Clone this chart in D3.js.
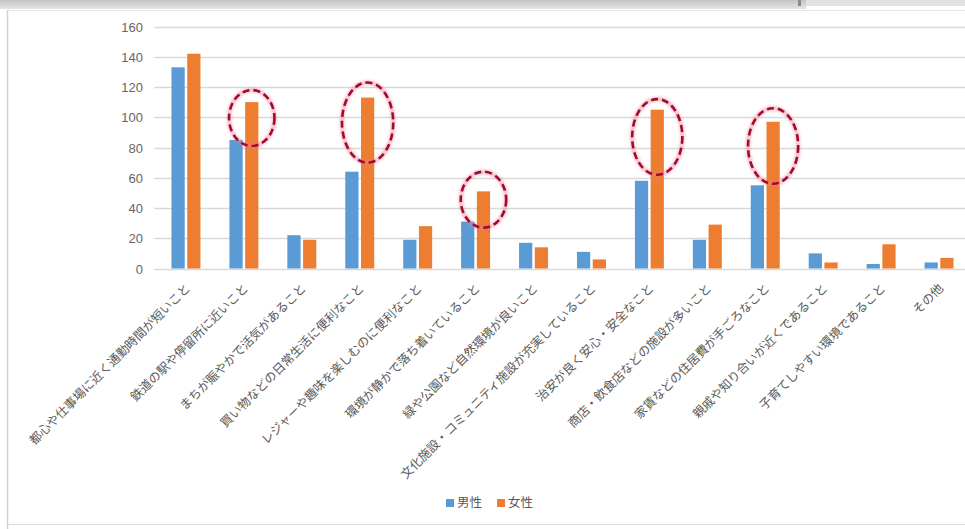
<!DOCTYPE html>
<html>
<head>
<meta charset="utf-8">
<script src="https://cdn.jsdelivr.net/npm/d3@7"></script>
<style>
  html, body { margin: 0; padding: 0; background: #fff; }
  svg { display: block; }
  text { font-family: "Noto Sans CJK JP", "Noto Sans", sans-serif; }
</style>
</head>
<body>
<svg id="chart" width="965" height="529"></svg>
<script>
// Reasons for choosing a place to live, by gender
const categories = [
  "都心や仕事場に近く通勤時間が短いこと",
  "鉄道の駅や停留所に近いこと",
  "まちが賑やかで活気があること",
  "買い物などの日常生活に便利なこと",
  "レジャーや趣味を楽しむのに便利なこと",
  "環境が静かで落ち着いていること",
  "緑や公園など自然環境が良いこと",
  "文化施設・コミュニティ施設が充実していること",
  "治安が良く安心・安全なこと",
  "商店・飲食店などの施設が多いこと",
  "家賃などの住居費が手ごろなこと",
  "親戚や知り合いが近くであること",
  "子育てしやすい環境であること",
  "その他"
];
const seriesNames = ["男性", "女性"];
const male   = [133, 85, 22, 64, 19, 31, 17, 11, 58, 19, 55, 10, 3, 4];
const female = [142, 110, 19, 113, 28, 51, 14, 6, 105, 29, 97, 4, 16, 7];
const yTicks = [0, 20, 40, 60, 80, 100, 120, 140, 160];
// Highlighted female bars: category index and the value span the ring covers
const highlightCat = [1, 3, 5, 8, 10];
const highlightLo  = [81, 70, 27, 62, 56];
const highlightHi  = [118, 123, 64, 112, 106];

const colors = ["#5b9bd5", "#ed7d31"];
const svg = d3.select("#chart");
const W = 965, H = 529;

// window frame around the chart
const defs = svg.append("defs");
const grad = defs.append("linearGradient").attr("id", "bar").attr("x1", 0).attr("y1", 0).attr("x2", 0).attr("y2", 1);
grad.append("stop").attr("offset", "0%").attr("stop-color", "#c4c4c4");
grad.append("stop").attr("offset", "100%").attr("stop-color", "#e4e4e4");
svg.append("rect").attr("x", 0).attr("y", 0).attr("width", 806).attr("height", 9).attr("fill", "url(#bar)");
svg.append("rect").attr("x", 806).attr("y", 0).attr("width", W - 806).attr("height", 6).attr("fill", "#e2e2e2");
svg.append("rect").attr("x", 798).attr("y", 0).attr("width", 3).attr("height", 6).attr("fill", "#8a8a8a");
svg.append("line").attr("x1", 7).attr("x2", W).attr("y1", 10.5).attr("y2", 10.5).attr("stroke", "#e6e6e6");
svg.append("line").attr("x1", 7.5).attr("x2", 7.5).attr("y1", 10).attr("y2", H).attr("stroke", "#d2d2d2").attr("stroke-width", 1.5);
svg.append("line").attr("x1", 8).attr("x2", W).attr("y1", 524.5).attr("y2", 524.5).attr("stroke", "#dcdcdc");

// scales
const y = d3.scaleLinear().domain([0, 160]).range([268.5, 26.5]);
const x0 = d3.scaleBand().domain(d3.range(categories.length)).range([157, 968])
  .paddingInner(0.5).paddingOuter(0.25);
const x1 = d3.scaleBand().domain([0, 1]).range([0, x0.bandwidth()]).paddingInner(0.16);

// gridlines and y axis
const yAxis = d3.axisLeft(y).tickValues(yTicks).tickSize(0).tickPadding(0);
const gy = svg.append("g").attr("transform", "translate(143,0)").call(yAxis);
gy.select(".domain").remove();
gy.selectAll("text").attr("fill", "#666").style("font-size", "13px")
  .style("font-family", "'Liberation Sans', Arial, sans-serif").attr("dy", "0.35em");
svg.append("g").selectAll("line").data(yTicks).join("line")
  .attr("x1", 154).attr("x2", W)
  .attr("y1", d => Math.round(y(d)) + 0.5).attr("y2", d => Math.round(y(d)) + 0.5)
  .attr("stroke", "#d9d9d9").attr("stroke-width", 1.3);

// bars
const series = [male, female];
const groups = svg.append("g").selectAll("g").data(categories).join("g")
  .attr("transform", (d, i) => `translate(${x0(i)},0)`);
groups.selectAll("rect").data((d, i) => series.map((s, k) => ({k, v: s[i]}))).join("rect")
  .attr("x", d => x1(d.k)).attr("width", x1.bandwidth())
  .attr("y", d => y(d.v)).attr("height", d => y(0) - y(d.v))
  .attr("fill", d => colors[d.k]);

// x labels, rotated
svg.append("g").selectAll("text").data(categories).join("text")
  .attr("transform", (d, i) => `translate(${x0(i) + x0.bandwidth() / 2 + 5},${289}) rotate(-45)`)
  .attr("text-anchor", "end")
  .attr("fill", "#595959").style("font-size", "12.3px")
  .text(d => d);

// dashed rings around highlighted female bars
const glow = defs.append("filter").attr("id", "glow").attr("x", "-30%").attr("y", "-30%").attr("width", "160%").attr("height", "160%");
glow.append("feGaussianBlur").attr("stdDeviation", 1.6);
const rings = highlightCat.map((c, i) => {
  const cx = x0(c) + x1(1) + x1.bandwidth() / 2;
  const top = y(highlightHi[i]), bot = y(highlightLo[i]);
  const ry = (bot - top) / 2;
  return {cx, cy: (top + bot) / 2, ry, rx: 16 + ry * 0.24};
});
const ringG = svg.append("g");
ringG.selectAll("ellipse.halo").data(rings).join("ellipse").attr("class", "halo")
  .attr("cx", d => d.cx).attr("cy", d => d.cy).attr("rx", d => d.rx).attr("ry", d => d.ry)
  .attr("fill", "none").attr("stroke", "#f07a9a").attr("stroke-width", 4).attr("opacity", 0.55)
  .attr("filter", "url(#glow)");
ringG.selectAll("ellipse.ring").data(rings).join("ellipse").attr("class", "ring")
  .attr("cx", d => d.cx).attr("cy", d => d.cy).attr("rx", d => d.rx).attr("ry", d => d.ry)
  .attr("fill", "none").attr("stroke", "#a00c2c").attr("stroke-width", 2.6)
  .attr("stroke-dasharray", "7 4");

// legend
const legend = svg.append("g").attr("transform", "translate(0,503)");
const lx = [446, 497];
seriesNames.forEach((name, k) => {
  legend.append("rect").attr("x", lx[k]).attr("y", -4).attr("width", 8).attr("height", 8).attr("fill", colors[k]);
  legend.append("text").attr("x", lx[k] + 11).attr("y", 0).attr("dy", "0.35em")
    .attr("fill", "#595959").style("font-size", "12.5px").text(name);
});
</script>
</body>
</html>
